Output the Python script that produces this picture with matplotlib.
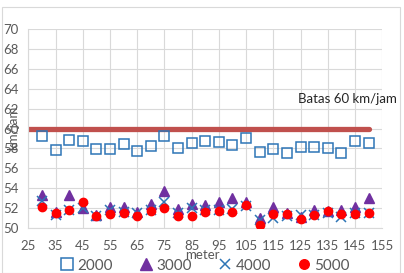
import matplotlib
matplotlib.use("Agg")
import matplotlib.pyplot as plt
from matplotlib.patches import Rectangle

plt.rcParams['font.family'] = ['Lato', 'DejaVu Sans']

x = list(range(30, 151, 5))
s2000 = [59.28, 57.87, 58.84, 58.74, 57.9, 57.9, 58.44, 57.7, 58.24, 59.28, 58.07, 58.5, 58.74,
         58.6, 58.34, 59.04, 57.64, 57.97, 57.57, 58.1, 58.17, 58.07, 57.5, 58.71, 58.58]
s3000 = [53.3, 51.6, 53.35, 52.0, 51.3, 52.15, 52.1, 51.6, 52.4, 53.7, 51.9, 52.4, 52.3,
         52.6, 53.05, 52.6, 51.0, 52.1, 51.55, 51.1, 51.8, 51.75, 51.85, 52.1, 53.05]
s4000 = [52.7, 51.3, 51.8, 52.0, 51.25, 51.8, 51.6, 51.55, 51.8, 52.6, 51.5, 52.05, 51.8,
         51.85, 51.9, 52.2, 50.85, 51.0, 51.2, 51.3, 51.3, 51.55, 51.15, 51.55, 51.55]
s5000 = [52.1, 51.5, 51.8, 52.6, 51.2, 51.45, 51.5, 51.25, 51.75, 52.0, 51.25, 51.2, 51.6,
         51.75, 51.65, 52.35, 50.3, 51.4, 51.4, 50.95, 51.3, 51.75, 51.4, 51.4, 51.55]
limit_x = [25, 150]
limit_y = [60, 60]
limit_label = "Batas 60 km/jam"
xticks = list(range(25, 156, 10))
yticks = list(range(50, 71, 2))

fig = plt.figure(figsize=(4.04, 2.73), dpi=100)
ax = fig.add_axes([0.07, 0.165, 0.876, 0.728])

ax.plot(limit_x, limit_y, color='#C0504D', lw=3.8, solid_capstyle='round', zorder=2)
ax.plot(x, s2000, ls='none', marker='s', ms=7.2, mfc='none', mec='#2E75B6', mew=1.1, label='2000', zorder=3)
ax.plot(x, s3000, ls='none', marker='^', ms=7.2, color='#7030A0', label='3000', zorder=3)
ax.plot(x, s4000, ls='none', marker='x', ms=6.5, mew=1.1, color='#2E75B6', label='4000', zorder=4)
ax.plot(x, s5000, ls='none', marker='o', ms=6, color='#FF0000', label='5000', zorder=5)

ax.set_xlim(25, 155)
ax.set_ylim(50, 70)
ax.set_xticks(xticks)
ax.set_yticks(yticks)
ax.grid(True, color='#D9D9D9', lw=0.8)
ax.set_axisbelow(True)
for sp in ['top', 'right']:
    ax.spines[sp].set_visible(False)
for sp in ['left', 'bottom']:
    ax.spines[sp].set_color('#D9D9D9')
ax.tick_params(length=0, labelsize=9.5, colors='#595959')
ax.tick_params(axis='x', pad=9)
ax.tick_params(axis='y', pad=7)

ax.text(124, 63.0, limit_label, fontsize=9.5, color='#262626', ha='left', va='center')

fig.text(0.5, 0.066, 'meter', ha='center', va='center', fontsize=9.5, color='#595959')
fig.text(0.033, 0.53, 'km/jam', ha='center', va='center', rotation=90, fontsize=9.5, color='#595959')

ax.legend(loc='center', bbox_to_anchor=(0.5, -0.19), ncol=4, frameon=False,
          fontsize=11, handlelength=0.8, handletextpad=0.3, columnspacing=1.75,
          labelcolor='#595959', borderpad=0, markerscale=1.15)

fig.add_artist(Rectangle((0.004, 0.0), 0.985, 0.975, transform=fig.transFigure,
                         fill=False, edgecolor='#D9D9D9', lw=0.8))

fig.savefig('out.png', dpi=100)
